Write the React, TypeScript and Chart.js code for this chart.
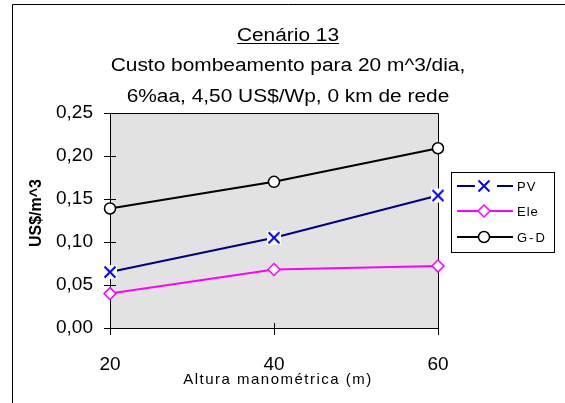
import React, { useEffect, useRef } from "react";
import { Chart, registerables } from "chart.js";

Chart.register(...registerables);

const heights = [20, 40, 60];
const pvValues = [0.065, 0.105, 0.154];
const eleValues = [0.04, 0.068, 0.072];
const gdValues = [0.139, 0.17, 0.209];
const yTicks = [0, 0.05, 0.1, 0.15, 0.2, 0.25];
const xTicks = [20, 40, 60];
const seriesNames = ["PV", "Ele", "G-D"];
const titleLines = ["Cenário 13", "Custo bombeamento para 20 m^3/dia,", "6%aa, 4,50 US$/Wp, 0 km de rede"];
const xTitle = "Altura manométrica (m)";
const yTitle = "US$/m^3";

const FONT = "'Liberation Sans', Arial, sans-serif";

function makeXMarker(): HTMLCanvasElement {
  const c = document.createElement("canvas");
  c.width = 16;
  c.height = 16;
  const g = c.getContext("2d")!;
  g.fillStyle = "#ffffff";
  g.fillRect(1, 1, 14, 14);
  g.strokeStyle = "#0000ff";
  g.lineWidth = 2;
  g.beginPath();
  g.moveTo(2.5, 2.5);
  g.lineTo(13.5, 13.5);
  g.moveTo(13.5, 2.5);
  g.lineTo(2.5, 13.5);
  g.stroke();
  return c;
}

function stretchedText(ctx: CanvasRenderingContext2D, text: string, cx: number, cy: number, sx: number) {
  ctx.save();
  ctx.translate(cx, cy);
  ctx.scale(sx, 1);
  ctx.fillText(text, 0, 0);
  ctx.restore();
}

export default function App() {
  const ref = useRef<HTMLCanvasElement>(null);

  useEffect(() => {
    const xMarker = makeXMarker();

    const decor = {
      id: "decor",
      beforeDatasetsDraw(chart: any) {
        const { ctx, chartArea } = chart;
        const { left, right, top, bottom } = chartArea;
        ctx.save();
        ctx.fillStyle = "#e2e2e2";
        ctx.fillRect(left, top, right - left, bottom - top);
        ctx.strokeStyle = "#000";
        ctx.lineWidth = 1;
        ctx.beginPath();
        ctx.rect(Math.round(left) + 0.5, Math.round(top) + 0.5, Math.round(right - left), Math.round(bottom - top));
        ctx.stroke();
        const ys = chart.scales.y;
        const xs = chart.scales.x;
        ctx.beginPath();
        yTicks.forEach((v) => {
          const py = Math.round(ys.getPixelForValue(v)) + 0.5;
          ctx.moveTo(left - 6, py);
          ctx.lineTo(left + 6, py);
        });
        xTicks.forEach((v) => {
          const px = Math.round(xs.getPixelForValue(v)) + 0.5;
          ctx.moveTo(px, bottom - 5);
          ctx.lineTo(px, bottom + 7);
        });
        ctx.stroke();
        ctx.restore();
      },
      afterDraw(chart: any) {
        const { ctx, chartArea } = chart;
        ctx.save();
        ctx.strokeStyle = "#000";
        ctx.lineWidth = 1;
        ctx.beginPath();
        ctx.moveTo(12.5, 403);
        ctx.lineTo(12.5, 4.5);
        ctx.lineTo(565, 4.5);
        ctx.stroke();

        // titles
        ctx.fillStyle = "#000";
        ctx.textAlign = "center";
        ctx.textBaseline = "middle";
        ctx.font = `18px ${FONT}`;
        const cx = 288;
        const sx = 1.16;
        const ys = [36, 66, 97];
        titleLines.forEach((t, i) => stretchedText(ctx, t, cx, ys[i], sx));
        const w0 = ctx.measureText(titleLines[0]).width * sx;
        ctx.beginPath();
        ctx.moveTo(cx - w0 / 2, 43.5);
        ctx.lineTo(cx + w0 / 2, 43.5);
        ctx.stroke();

        // x title
        ctx.font = `15px ${FONT}`;
        (ctx as any).letterSpacing = "1.5px";
        ctx.fillText(xTitle, 278, 380);
        (ctx as any).letterSpacing = "0px";

        // y title
        ctx.save();
        ctx.translate(37, 213);
        ctx.rotate(-Math.PI / 2);
        ctx.font = `bold 16px ${FONT}`;
        ctx.fillText(yTitle, 0, 0);
        ctx.restore();

        // legend
        const lx = 451.5, ly = 172.5, lw = 103, lh = 80;
        ctx.fillStyle = "#fff";
        ctx.fillRect(lx, ly, lw, lh);
        ctx.strokeStyle = "#000";
        ctx.lineWidth = 1;
        ctx.strokeRect(lx, ly, lw, lh);
        const rows = [186, 211, 237];
        chart.data.datasets.forEach((ds: any, i: number) => {
          const y = rows[i];
          ctx.strokeStyle = ds.borderColor;
          ctx.lineWidth = 2;
          ctx.beginPath();
          if (i === 0) {
            ctx.moveTo(457, y);
            ctx.lineTo(475, y);
            ctx.moveTo(497, y);
            ctx.lineTo(513, y);
          } else {
            ctx.moveTo(457, y);
            ctx.lineTo(513, y);
          }
          ctx.stroke();
          const mx = 484;
          if (i === 0) {
            ctx.drawImage(xMarker, mx - 8, y - 8);
          } else if (i === 1) {
            ctx.fillStyle = "#fff";
            ctx.strokeStyle = "#ff00ff";
            ctx.lineWidth = 1.5;
            ctx.beginPath();
            ctx.moveTo(mx, y - 6);
            ctx.lineTo(mx + 6, y);
            ctx.lineTo(mx, y + 6);
            ctx.lineTo(mx - 6, y);
            ctx.closePath();
            ctx.fill();
            ctx.stroke();
          } else {
            ctx.fillStyle = "#fff";
            ctx.strokeStyle = "#000";
            ctx.lineWidth = 1.5;
            ctx.beginPath();
            ctx.arc(mx, y, 5.5, 0, Math.PI * 2);
            ctx.fill();
            ctx.stroke();
          }
          ctx.fillStyle = "#000";
          ctx.textAlign = "left";
          ctx.font = `13px ${FONT}`;
          (ctx as any).letterSpacing = i === 2 ? "2px" : "1px";
          ctx.fillText(seriesNames[i], 517, y + 1);
          (ctx as any).letterSpacing = "0px";
        });
        ctx.restore();
      },
    };

    const toPts = (vals: number[]) => heights.map((h, i) => ({ x: h, y: vals[i] }));

    const chart = new Chart(ref.current!, {
      type: "line",
      data: {
        datasets: [
          {
            label: seriesNames[0],
            data: toPts(pvValues),
            borderColor: "#000080",
            borderWidth: 2,
            pointStyle: xMarker as any,
            pointRadius: 7,
            clip: false as any,
          },
          {
            label: seriesNames[1],
            data: toPts(eleValues),
            borderColor: "#ff00ff",
            borderWidth: 2,
            pointStyle: "rectRot",
            pointRadius: 6,
            pointBorderWidth: 1.5,
            pointBackgroundColor: "#ffffff",
            pointBorderColor: "#ff00ff",
            clip: false as any,
          },
          {
            label: seriesNames[2],
            data: toPts(gdValues),
            borderColor: "#000000",
            borderWidth: 2,
            pointStyle: "circle",
            pointRadius: 5.5,
            pointBorderWidth: 1.5,
            pointBackgroundColor: "#ffffff",
            pointBorderColor: "#000000",
            clip: false as any,
          },
        ],
      },
      options: {
        animation: false,
        responsive: false,
        maintainAspectRatio: false,
        layout: { padding: { left: 0, right: 127, top: 113, bottom: 0 } },
        plugins: {
          legend: { display: false },
          title: { display: false },
          tooltip: { enabled: false },
        },
        scales: {
          x: {
            type: "linear",
            min: 20,
            max: 60,
            afterBuildTicks: (s: any) => {
              s.ticks = xTicks.map((v) => ({ value: v }));
            },
            afterFit: (s: any) => {
              s.height = 75;
            },
            grid: { display: false },
            border: { display: false },
            ticks: {
              color: "#000",
              font: { family: FONT, size: 19 },
              padding: 17,
              maxRotation: 0,
            },
          },
          y: {
            type: "linear",
            min: 0,
            max: 0.25,
            afterBuildTicks: (s: any) => {
              s.ticks = yTicks.map((v) => ({ value: v }));
            },
            afterFit: (s: any) => {
              s.width = 110;
            },
            grid: { display: false },
            border: { display: false },
            ticks: {
              color: "#000",
              font: { family: FONT, size: 19 },
              padding: 9,
              callback: (v: any) => Number(v).toFixed(2).replace(".", ","),
            },
          },
        },
      },
      plugins: [decor],
    });

    return () => chart.destroy();
  }, []);

  return (
    <div style={{ position: "fixed", left: 0, top: 0, width: 565, height: 403, background: "#fff" }}>
      <canvas ref={ref} width={565} height={403} style={{ width: 565, height: 403 }} />
    </div>
  );
}
